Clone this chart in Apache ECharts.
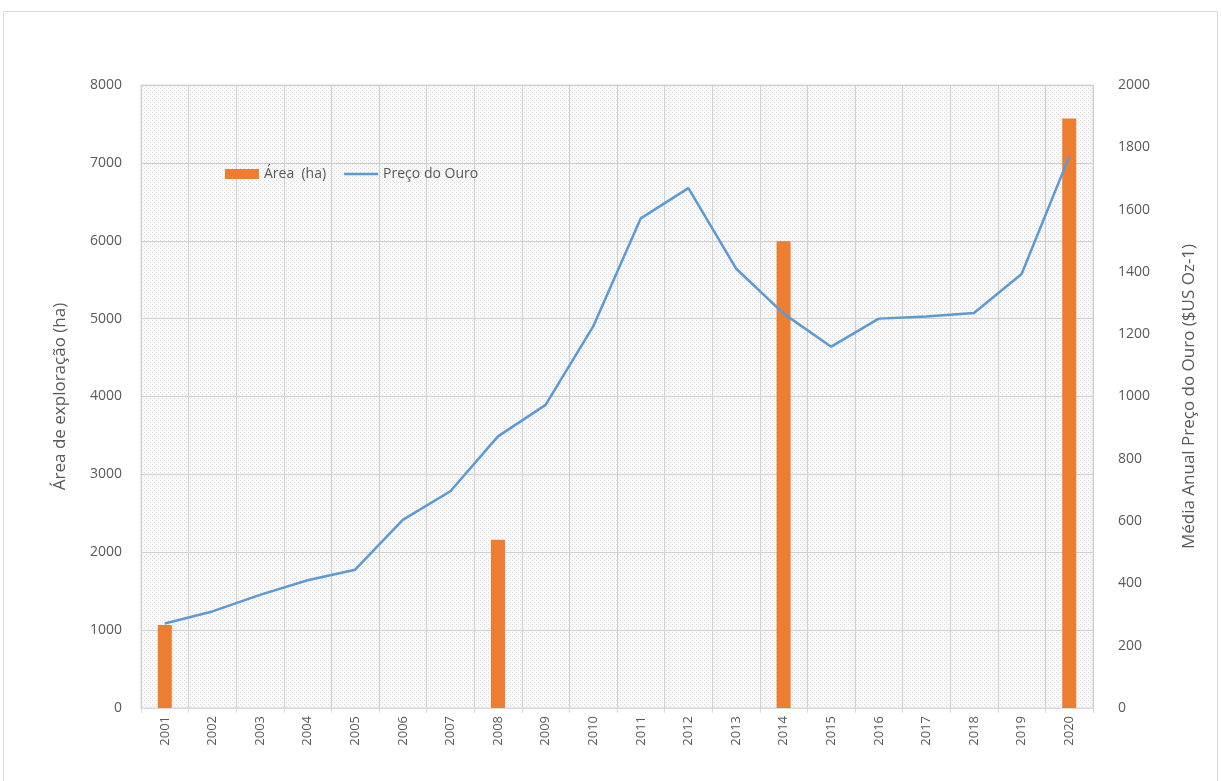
<!DOCTYPE html>
<html><head><meta charset="utf-8">
<script src="https://cdn.jsdelivr.net/npm/echarts@6/dist/echarts.min.js"></script>
<style>html,body{margin:0;padding:0;background:#fff}#c{width:1221px;height:781px}</style>
</head><body><div id="c"></div>
<script>
const years = ['2001','2002','2003','2004','2005','2006','2007','2008','2009','2010','2011','2012','2013','2014','2015','2016','2017','2018','2019','2020'];
const areaHa = [1065, null, null, null, null, null, null, 2160, null, null, null, null, null, 5995, null, null, null, null, null, 7570];
const goldPrice = [271, 310, 363, 410, 444, 604, 696, 872, 973, 1225, 1572, 1669, 1411, 1266, 1160, 1250, 1257, 1268, 1393, 1770];
const leftTicks = {min: 0, max: 8000, interval: 1000};
const rightTicks = {min: 0, max: 2000, interval: 200};

// dotted pattern for plot background
const pc = document.createElement('canvas');
pc.width = 4; pc.height = 4;
const pctx = pc.getContext('2d');
pctx.fillStyle = '#f8f8f8'; pctx.fillRect(0,0,4,4);
pctx.fillStyle = '#e0e0e0'; pctx.fillRect(0,0,1,1); pctx.fillRect(2,2,1,1);

const chart = echarts.init(document.getElementById('c'));
const txt = '#595959';
const fam = '"Open Sans", "Liberation Sans", sans-serif';
const plain = v => String(v);
chart.setOption({
  animation: false,
  textStyle: {fontFamily: fam},
  graphic: [{type: 'rect', shape: {x: 3.5, y: 11.5, width: 1214, height: 800}, style: {fill: 'none', stroke: '#d9d9d9', lineWidth: 1}, z: -1}],
  grid: {left: 141, right: 128, top: 85, bottom: 73, show: true, backgroundColor: {image: pc, repeat: 'repeat'}, borderColor: '#d9d9d9', borderWidth: 1},
  legend: {
    left: 220, top: 162, itemGap: 18, itemWidth: 34, itemHeight: 10,
    textStyle: {color: txt, fontSize: 14, fontFamily: fam},
    data: [
      {name: 'Área  (ha)', icon: 'rect'},
      {name: 'Preço do Ouro', icon: 'path://M0,0H100V7H0Z', itemStyle: {color: '#5b9bd5'}}
    ]
  },
  xAxis: {
    type: 'category', data: years, boundaryGap: true,
    axisLine: {show: true, lineStyle: {color: '#d9d9d9'}},
    axisTick: {show: true, alignWithLabel: false, length: 5, lineStyle: {color: '#d9d9d9'}},
    axisLabel: {rotate: 90, color: txt, fontSize: 13, margin: 8, interval: 0},
    splitLine: {show: true, interval: 0, lineStyle: {color: '#d0d0d0'}}
  },
  yAxis: [{
    type: 'value', ...leftTicks,
    name: 'Área de exploração (ha)', nameLocation: 'middle', nameGap: 72, nameRotate: 90,
    nameTextStyle: {color: txt, fontSize: 17},
    axisLine: {show: false}, axisTick: {show: false},
    axisLabel: {color: txt, fontSize: 14, margin: 19, formatter: plain},
    splitLine: {show: true, lineStyle: {color: '#d0d0d0'}}
  }, {
    type: 'value', ...rightTicks, position: 'right',
    name: 'Média Anual Preço do Ouro ($US Oz-1)', nameLocation: 'middle', nameGap: 88, nameRotate: 90,
    nameTextStyle: {color: txt, fontSize: 17},
    axisLine: {show: false}, axisTick: {show: false},
    axisLabel: {color: txt, fontSize: 14, margin: 25, formatter: plain},
    splitLine: {show: false}
  }],
  series: [{
    name: 'Área  (ha)', type: 'bar', yAxisIndex: 0, data: areaHa, barWidth: 14,
    itemStyle: {color: '#ed7d31'}
  }, {
    name: 'Preço do Ouro', type: 'line', yAxisIndex: 1, data: goldPrice,
    symbol: 'none', lineStyle: {color: '#5b9bd5', width: 2.5}, itemStyle: {color: '#5b9bd5'}
  }]
});
</script></body></html>
